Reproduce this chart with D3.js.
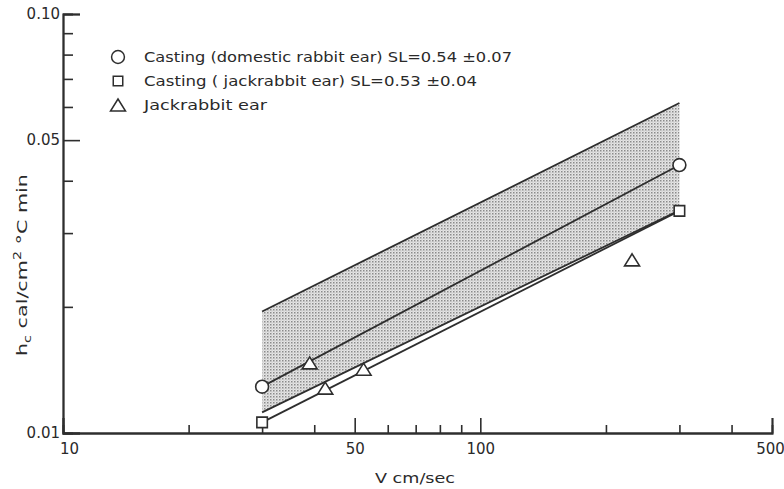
<!DOCTYPE html>
<html>
<head>
<meta charset="utf-8">
<script src="https://cdn.jsdelivr.net/npm/d3@7"></script>
<style>
  html, body { margin: 0; padding: 0; background: #fff; }
  svg { display: block; }
  text { font-family: "DejaVu Sans", sans-serif; fill: #2a2a2a; }
</style>
</head>
<body>
<svg id="chart" width="784" height="489"></svg>
<script>
// ---- data ----
const fitV = [30, 300];                       // velocity range of fitted lines (cm/sec)
const bandUpper = [0.0195, 0.0613];           // upper edge of shaded band
const bandLower = [0.0112, 0.0340];           // lower edge of shaded band
const domesticCasting = [0.0129, 0.0436];     // Casting (domestic rabbit ear)
const jackCasting = [0.0106, 0.0339];         // Casting (jackrabbit ear)
const jackEarV = [39, 42.5, 52.5, 231];       // Jackrabbit ear, velocity
const jackEarH = [0.0147, 0.0128, 0.0142, 0.0259];

const xMajorTicks = [10, 50, 100, 500];
const xMinorTicks = [20, 30, 40, 60, 70, 80, 90, 200, 300, 400];
const yMajorTicks = [0.01, 0.05, 0.10];
const yMinorTicks = [0.02, 0.03, 0.04, 0.06, 0.07, 0.08, 0.09];
const legendLabels = [
  "Casting (domestic rabbit ear) SL=0.54 \u00b10.07",
  "Casting ( jackrabbit ear) SL=0.53 \u00b10.04",
  "Jackrabbit  ear"
];

// ---- drawing ----
const svg = d3.select("#chart");
const ink = "#2e2e2e";
const x = d3.scaleLog().domain([10, 500]).range([63, 772]);
const y = d3.scaleLog().domain([0.01, 0.1]).range([433, 14]);

// stipple pattern
const defs = svg.append("defs");
const pat = defs.append("pattern").attr("id", "stip")
  .attr("patternUnits", "userSpaceOnUse").attr("width", 3).attr("height", 3);
pat.append("rect").attr("width", 3).attr("height", 3).attr("fill", "#e6e6e6");
pat.append("rect").attr("width", 1.5).attr("height", 1.5).attr("fill", "#8a8a8a");
pat.append("rect").attr("x", 1.5).attr("y", 1.5).attr("width", 1).attr("height", 1).attr("fill", "#b5b5b5");

// shaded band
const bandPts = fitV.map((v, i) => [x(v), y(bandUpper[i])])
  .concat(fitV.map((v, i) => [x(v), y(bandLower[i])]).reverse());
svg.append("path")
  .attr("d", "M" + bandPts.map(p => p.join(",")).join("L") + "Z")
  .attr("fill", "url(#stip)").attr("stroke", "none");

// lines
const line = d3.line().x(d => x(d[0])).y(d => y(d[1]));
[bandUpper, bandLower, domesticCasting, jackCasting].forEach(arr => {
  svg.append("path")
    .attr("d", line(fitV.map((v, i) => [v, arr[i]])))
    .attr("fill", "none").attr("stroke", ink).attr("stroke-width", 1.8);
});

// axes
function styleAxis(g) {
  g.selectAll("path.domain").attr("stroke", ink).attr("stroke-width", 1.8);
  g.selectAll(".tick line").attr("stroke", ink).attr("stroke-width", 1.6);
  g.selectAll(".tick text").attr("fill", "#2a2a2a")
    .style("font-family", "'DejaVu Sans', sans-serif").style("font-size", "15px");
}
const xMinor = svg.append("g").attr("transform", "translate(0,433)")
  .call(d3.axisBottom(x).tickValues(xMinorTicks).tickSize(-8).tickFormat(""));
styleAxis(xMinor);
const xMajor = svg.append("g").attr("transform", "translate(0,433)")
  .call(d3.axisBottom(x).tickValues(xMajorTicks).tickSize(-15).tickPadding(10)
    .tickFormat(d3.format("d")));
styleAxis(xMajor);
xMajor.selectAll(".tick text").attr("dx", (d) => d === 10 ? 6 : (d === 500 ? -2 : 0));

const yMinor = svg.append("g").attr("transform", "translate(63,0)")
  .call(d3.axisLeft(y).tickValues(yMinorTicks).tickSize(-10).tickFormat(""));
styleAxis(yMinor);
const yMajor = svg.append("g").attr("transform", "translate(63,0)")
  .call(d3.axisLeft(y).tickValues(yMajorTicks).tickSize(-17).tickPadding(20)
    .tickFormat(d3.format(".2f")));
styleAxis(yMajor);
yMajor.selectAll(".tick text").attr("dx", 17);

// markers
const circleSym = d3.symbol().type(d3.symbolCircle).size(130);
const squareSym = d3.symbol().type(d3.symbolSquare).size(110);
const triPath = (cx, cy, s) => {
  const h = s * 0.8;
  return `M${cx},${cy - h / 2}L${cx + s / 2},${cy + h / 2}L${cx - s / 2},${cy + h / 2}Z`;
};

fitV.forEach((v, i) => {
  svg.append("path").attr("d", circleSym())
    .attr("transform", `translate(${x(v)},${y(domesticCasting[i])})`)
    .attr("fill", "#fff").attr("stroke", ink).attr("stroke-width", 1.6);
  svg.append("path").attr("d", squareSym())
    .attr("transform", `translate(${x(v)},${y(jackCasting[i])})`)
    .attr("fill", "#fff").attr("stroke", ink).attr("stroke-width", 1.6);
});
jackEarV.forEach((v, i) => {
  svg.append("path").attr("d", triPath(x(v), y(jackEarH[i]), 15))
    .attr("fill", "#fff").attr("stroke", ink).attr("stroke-width", 1.6);
});

// legend
const lg = svg.append("g");
const legendY = [57, 81, 105];
const legendW = [368, 333, 123];
lg.append("path").attr("d", circleSym()).attr("transform", `translate(118,${legendY[0]})`)
  .attr("fill", "none").attr("stroke", ink).attr("stroke-width", 1.5);
lg.append("path").attr("d", d3.symbol().type(d3.symbolSquare).size(90)())
  .attr("transform", `translate(118,${legendY[1]})`)
  .attr("fill", "none").attr("stroke", ink).attr("stroke-width", 1.5);
lg.append("path").attr("d", triPath(118, legendY[2], 15))
  .attr("fill", "none").attr("stroke", ink).attr("stroke-width", 1.5);
legendLabels.forEach((t, i) => {
  lg.append("text").attr("x", 144).attr("y", legendY[i] + 5)
    .attr("textLength", legendW[i]).attr("lengthAdjust", "spacingAndGlyphs")
    .style("font-size", "14.5px").text(t);
});

// axis titles
svg.append("text").attr("x", 375).attr("y", 483)
  .attr("textLength", 80).attr("lengthAdjust", "spacingAndGlyphs")
  .style("font-size", "14.5px").text("V  cm/sec");

const yt = svg.append("text")
  .attr("transform", "translate(27,356) rotate(-90)")
  .attr("textLength", 182).attr("lengthAdjust", "spacingAndGlyphs")
  .style("font-size", "14.5px");
yt.append("tspan").text("h");
yt.append("tspan").attr("dy", 4).style("font-size", "10px").text("c");
yt.append("tspan").attr("dy", -4).text(" cal/cm");
yt.append("tspan").attr("dy", -6).style("font-size", "10px").text("2");
yt.append("tspan").attr("dy", 6).text(" \u00b0C  min");
</script>
</body>
</html>
